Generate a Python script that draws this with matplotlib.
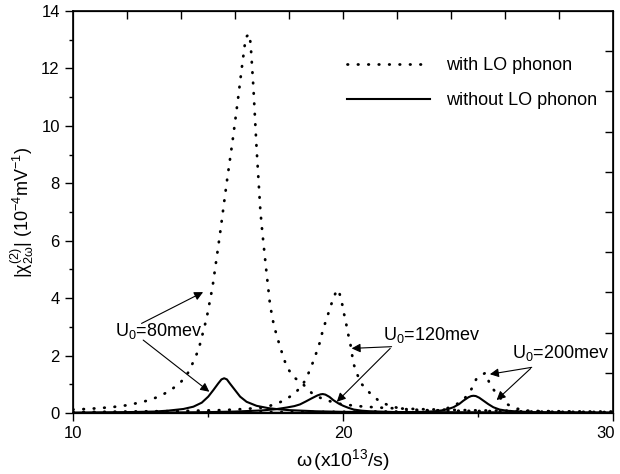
import matplotlib
matplotlib.use("Agg")
import matplotlib.pyplot as plt
import matplotlib.transforms as mtransforms

plt.rcParams['font.family'] = ['Liberation Sans', 'DejaVu Sans']
plt.rcParams['mathtext.fontset'] = 'stix'
plt.rcParams['mathtext.default'] = 'regular'

# with LO phonon (dotted)
x_lo80 = [10, 10.5, 11, 11.5, 12, 12.4, 12.8, 13.2, 13.6, 14.0, 14.3, 14.65, 14.95, 15.17, 15.44,
          15.69, 15.91, 16.11, 16.25, 16.40, 16.53, 16.58, 16.68, 16.80, 16.94, 17.01, 17.17, 17.30,
          17.44, 17.67, 17.91, 18.16, 18.49, 18.88, 19.27, 19.8, 20.44, 20.81, 21.5, 22, 23, 24, 25,
          26, 27, 28, 29, 30]
y_lo80 = [0.12, 0.14, 0.17, 0.21, 0.27, 0.35, 0.44, 0.58, 0.78, 1.08, 1.45, 2.2, 3.3, 4.4, 6.2,
          8.0, 9.47, 10.92, 12.0, 13.09, 13.2, 12.85, 11.37, 9.22, 7.05, 6.32, 4.87, 3.76,
          3.05, 2.3, 1.62, 1.26, 1.03, 0.66, 0.48, 0.33, 0.25, 0.22, 0.18, 0.16, 0.13, 0.11, 0.09,
          0.08, 0.07, 0.06, 0.05, 0.05]

x_lo120 = [10, 11, 12, 13, 14, 15, 15.5, 16, 16.5, 17.05, 17.48, 17.85, 18.22, 18.51, 18.72, 18.88,
           19.03, 19.15, 19.25, 19.37, 19.49, 19.62, 19.76, 19.83, 19.95, 20.01, 20.10, 20.16, 20.26,
           20.32, 20.38, 20.51, 20.69, 21.0, 21.37, 21.74, 22.17, 23, 24, 25, 26, 27, 28, 29, 30]
y_lo120 = [0.03, 0.04, 0.05, 0.06, 0.07, 0.09, 0.1, 0.12, 0.15, 0.19, 0.30, 0.45, 0.69, 0.98, 1.38, 1.75,
           2.14, 2.48, 2.87, 3.22, 3.56, 3.94, 4.26, 4.29, 3.91, 3.56, 3.22, 2.87, 2.48,
           2.14, 1.75, 1.38, 1.01, 0.69, 0.39, 0.25, 0.14, 0.10, 0.08, 0.07, 0.06, 0.05, 0.04, 0.04, 0.03]

x_lo200 = [10, 12, 14, 16, 18, 20, 21, 22, 22.5, 23, 23.65, 24.09, 24.46, 24.74, 24.93, 25.1, 25.28,
           25.44, 25.7, 26.0, 26.41, 26.78, 27.2, 28, 29, 30]
y_lo200 = [0.01, 0.015, 0.02, 0.025, 0.03, 0.04, 0.05, 0.05, 0.06, 0.07, 0.10, 0.24, 0.45, 0.80, 1.17, 1.3, 1.4,
           1.0, 0.65, 0.34, 0.16, 0.08, 0.06, 0.04, 0.03, 0.02]

# without LO phonon (solid)
x_no80 = [10, 11, 12, 12.5, 13, 13.5, 14.09, 14.46, 14.77, 15.01, 15.2, 15.38, 15.5, 15.6, 15.7,
          15.81, 16.0, 16.19, 16.43, 16.8, 17.23, 17.6, 18, 18.5, 19, 20, 22, 25, 30]
y_no80 = [0.01, 0.02, 0.03, 0.04, 0.05, 0.08, 0.14, 0.22, 0.36, 0.57, 0.80, 1.03, 1.17, 1.21, 1.17,
          1.03, 0.80, 0.57, 0.39, 0.25, 0.17, 0.13, 0.10, 0.08, 0.06, 0.04, 0.03, 0.02, 0.01]

x_no120 = [10, 12, 14, 15, 16, 16.5, 17, 17.5, 17.91, 18.2, 18.41, 18.62, 18.84, 19.05, 19.17, 19.25,
           19.35, 19.5, 19.64, 19.82, 20.01, 20.2, 20.4, 20.7, 21, 22, 24, 26, 30]
y_no120 = [0.005, 0.01, 0.02, 0.03, 0.05, 0.07, 0.09, 0.13, 0.19, 0.24, 0.30, 0.40, 0.51, 0.61, 0.65, 0.66,
           0.64, 0.56, 0.45, 0.34, 0.25, 0.18, 0.12, 0.08, 0.06, 0.03, 0.015, 0.01, 0.005]

x_no200 = [10, 15, 20, 22, 23, 23.4, 23.65, 23.9, 24.09, 24.3, 24.46, 24.65, 24.75, 24.83, 24.92, 25.05,
           25.2, 25.38, 25.57, 25.8, 26.06, 26.5, 27, 28, 30]
y_no200 = [0.002, 0.004, 0.01, 0.02, 0.04, 0.06, 0.09, 0.14, 0.20, 0.31, 0.43, 0.55, 0.59, 0.60, 0.59, 0.53,
           0.43, 0.31, 0.20, 0.12, 0.08, 0.05, 0.03, 0.02, 0.01]

fig = plt.figure(figsize=(6.2, 4.74), dpi=100)
ax = fig.add_axes([0.1177, 0.1287, 0.871, 0.848])

dots = dict(color='black', lw=2.0, linestyle=(0, (0.2, 3.55)), dash_capstyle='round')
ax.plot(x_lo80, y_lo80, label='with LO phonon', **dots)
ax.plot(x_lo120, y_lo120, **dots)
ax.plot(x_lo200, y_lo200, **dots)
ax.plot(x_no80, y_no80, color='black', lw=1.5, label='without LO phonon')
ax.plot(x_no120, y_no120, color='black', lw=1.5)
ax.plot(x_no200, y_no200, color='black', lw=1.5)

ax.set_xlim(10, 30)
ax.set_ylim(0, 14)
ax.set_xticks([10, 20, 30])
ax.set_xticks([15, 25], minor=True)
ax.set_yticks(range(0, 15, 2))
ax.set_yticks(range(1, 14, 2), minor=True)
ax.tick_params(which='major', direction='out', length=6, width=1, labelsize=12)
ax.tick_params(which='minor', direction='out', length=3, width=1)
for s in ax.spines.values():
    s.set_linewidth(1.2)

# nudge the last x label so it stays inside the figure
last = ax.get_xticklabels()[-1]
last.set_transform(last.get_transform() + mtransforms.ScaledTranslation(-5 / 72, 0, fig.dpi_scale_trans))

# top / right ticks
axt = ax.twiny()
axt.set_xlim(10, 30)
axt.set_xticks([12, 14, 16, 18, 20, 22, 24, 26, 28])
axt.tick_params(direction='in', length=6, width=1, labeltop=False)
axr = ax.twinx()
axr.set_ylim(0, 14)
axr.set_yticks([1.4 * i for i in range(1, 10)])
axr.tick_params(direction='in', length=6, width=1, labelright=False)

ax.set_xlabel(r'$\omega\,$(x10$^{13}$/s)', fontsize=14, labelpad=4)
ax.set_ylabel(r'|$\chi^{(2)}_{2\omega}$| (10$^{-4}$mV$^{-1}$)', fontsize=13, labelpad=4)

ax.legend(loc='upper left', bbox_to_anchor=(0.477, 0.925), frameon=False, fontsize=13,
          handlelength=4.6, handletextpad=0.9, labelspacing=1.0)

arrow = dict(arrowstyle='-|>', color='black', lw=0.8, mutation_scale=13, shrinkA=0, shrinkB=0)
ax.text(11.56, 2.86, r'U$_0$=80mev', fontsize=13, va='center')
ax.annotate('', xy=(14.82, 4.21), xytext=(12.54, 3.12), arrowprops=arrow)
ax.annotate('', xy=(15.05, 0.74), xytext=(12.6, 2.54), arrowprops=arrow)

ax.text(21.47, 2.7, r'U$_0$=120mev', fontsize=13, va='center')
ax.annotate('', xy=(20.32, 2.25), xytext=(21.8, 2.31), arrowprops=arrow)
ax.annotate('', xy=(19.77, 0.39), xytext=(21.75, 2.25), arrowprops=arrow)

ax.text(26.25, 2.09, r'U$_0$=200mev', fontsize=13, va='center')
ax.annotate('', xy=(25.44, 1.35), xytext=(26.99, 1.59), arrowprops=arrow)
ax.annotate('', xy=(25.69, 0.45), xytext=(26.95, 1.55), arrowprops=arrow)

fig.savefig('out.png', dpi=100)
